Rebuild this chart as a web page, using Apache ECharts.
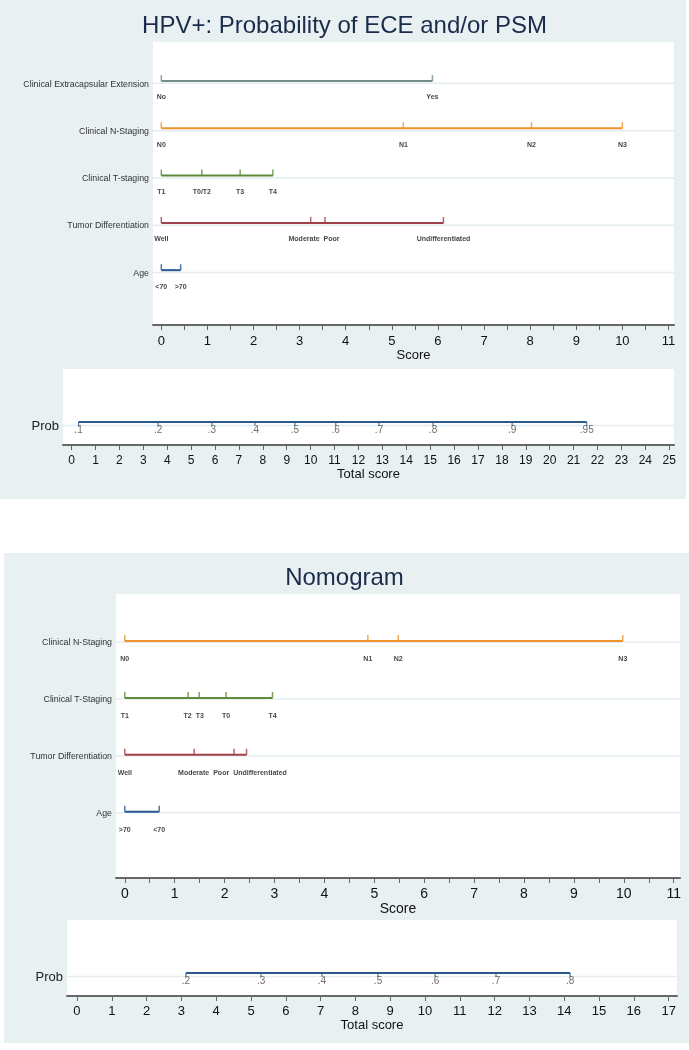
<!DOCTYPE html>
<html>
<head>
<meta charset="utf-8">
<script src="https://cdn.jsdelivr.net/npm/echarts@6/dist/echarts.min.js"></script>
<style>
  html, body { margin: 0; padding: 0; background: #fff; }
  #main { width: 689px; height: 1050px; }
</style>
</head>
<body>
<div id="main"></div>
<script>
// ---- top nomogram (HPV+: ECE and/or PSM) ----
const topRows = ['Clinical Extracapsular Extension', 'Clinical N-Staging', 'Clinical T-staging', 'Tumor Differentiation', 'Age'];
const topEceLevels = ['No', 'Yes'];
const topEceScores = [0, 5.88];
const topNLevels = ['N0', 'N1', 'N2', 'N3'];
const topNScores = [0, 5.25, 8.03, 10];
const topTLevels = ['T1', 'T0/T2', 'T3', 'T4'];
const topTScores = [0, 0.88, 1.71, 2.42];
const topDiffLevels = ['Well', 'Moderate', 'Poor', 'Undifferentiated'];
const topDiffScores = [0, 3.24, 3.55, 6.12];
const topAgeLevels = ['<70', '>70'];
const topAgeScores = [0, 0.42];
const topProbLabels = ['.1', '.2', '.3', '.4', '.5', '.6', '.7', '.8', '.9', '.95'];
const topProbScores = [0.29, 3.62, 5.87, 7.67, 9.34, 11.05, 12.86, 15.12, 18.43, 21.55];
const topScoreTicks = [0, 1, 2, 3, 4, 5, 6, 7, 8, 9, 10, 11];
const topTotalTicks = [0, 1, 2, 3, 4, 5, 6, 7, 8, 9, 10, 11, 12, 13, 14, 15, 16, 17, 18, 19, 20, 21, 22, 23, 24, 25];

// ---- bottom nomogram ----
const botRows = ['Clinical N-Staging', 'Clinical T-Staging', 'Tumor Differentiation', 'Age'];
const botNLevels = ['N0', 'N1', 'N2', 'N3'];
const botNScores = [0, 4.87, 5.48, 9.98];
const botTLevels = ['T1', 'T2', 'T3', 'T0', 'T4'];
const botTScores = [0, 1.27, 1.49, 2.03, 2.96];
const botDiffLevels = ['Well', 'Moderate', 'Poor', 'Undifferentiated'];
const botDiffScores = [0, 1.39, 2.19, 2.44];
const botAgeLevels = ['>70', '<70'];
const botAgeScores = [0, 0.69];
const botProbLabels = ['.2', '.3', '.4', '.5', '.6', '.7', '.8'];
const botProbScores = [3.13, 5.29, 7.04, 8.65, 10.29, 12.04, 14.17];
const botScoreTicks = [0, 1, 2, 3, 4, 5, 6, 7, 8, 9, 10, 11];
const botTotalTicks = [0, 1, 2, 3, 4, 5, 6, 7, 8, 9, 10, 11, 12, 13, 14, 15, 16, 17];

const AX_FONT = "'Liberation Sans', Arial, sans-serif";
const PANEL = '#e8f0f2';
const GRIDLINE = '#e3ecef';

const topDefs = [
  { levels: topEceLevels, scores: topEceScores, color: '#72908a' },
  { levels: topNLevels, scores: topNScores, color: '#f0922b' },
  { levels: topTLevels, scores: topTScores, color: '#5f8a3b' },
  { levels: topDiffLevels, scores: topDiffScores, color: '#a33e4b' },
  { levels: topAgeLevels, scores: topAgeScores, color: '#25588f' }
];
const botDefs = [
  { levels: botNLevels, scores: botNScores, color: '#f0922b' },
  { levels: botTLevels, scores: botTScores, color: '#5f8a3b' },
  { levels: botDiffLevels, scores: botDiffScores, color: '#a33e4b' },
  { levels: botAgeLevels, scores: botAgeScores, color: '#25588f' }
];

// axis ranges (score 0 sits a little inside the white box, like Stata)
const ranges = [
  { min: -0.18, max: 11.12 },   // top score
  { min: -0.36, max: 25.2 },    // top total score
  { min: -0.176, max: 11.126 }, // bottom score
  { min: -0.287, max: 17.24 }   // bottom total score
];

function xAxis(g, labels, step, fontSize, name, nameSize, margin, nameGap) {
  const ticks = [];
  for (let v = labels[0]; v <= labels[labels.length - 1] + 1e-9; v += step) ticks.push(+v.toFixed(2));
  return {
    gridIndex: g, type: 'value', min: ranges[g].min, max: ranges[g].max,
    name: name, nameLocation: 'middle', nameGap: nameGap,
    nameTextStyle: { fontSize: nameSize, color: '#111', fontFamily: AX_FONT },
    axisLine: { show: true, onZero: false, lineStyle: { color: '#666', width: 2 } },
    axisTick: { show: true, customValues: ticks, length: 5, lineStyle: { color: '#666', width: 1 } },
    axisLabel: { customValues: labels, fontSize: fontSize, color: '#111', margin: margin, fontFamily: AX_FONT },
    splitLine: { show: false }
  };
}

// labels sit slightly under the drawn line (shift in row units)
function yAxis(g, min, max, rows, fontSize, color, shift) {
  return {
    gridIndex: g, type: 'value', inverse: true, min: min, max: max,
    axisLine: { show: false }, axisTick: { show: false }, splitLine: { show: false },
    axisLabel: {
      customValues: rows.map((_, i) => i + shift),
      formatter: v => rows[Math.round(v)],
      fontSize: fontSize, color: color, fontFamily: AX_FONT, margin: 4
    }
  };
}

function rowSeries(g, defs, prefix, gridShift, dist) {
  const out = [];
  defs.forEach((d, r) => {
    out.push({
      type: 'line', xAxisIndex: g, yAxisIndex: g, silent: true, z: 1, symbol: 'none',
      data: [[ranges[g].min, r + gridShift], [ranges[g].max, r + gridShift]],
      lineStyle: { color: GRIDLINE, width: 1.5 }
    });
    out.push({
      type: 'line', xAxisIndex: g, yAxisIndex: g, silent: true, z: 2, symbol: 'none',
      data: d.scores.map(s => [s, r]),
      lineStyle: { color: d.color, width: 2 }
    });
    out.push({
      id: prefix + r, type: 'scatter', xAxisIndex: g, yAxisIndex: g, silent: true, z: 3,
      symbol: 'rect', symbolSize: [1.5, 6], symbolOffset: [0, -3],
      itemStyle: { color: d.color },
      data: d.scores.map((s, k) => ({ value: [s, r], name: d.levels[k] })),
      label: {
        show: true, position: 'bottom', distance: dist, formatter: '{b}',
        fontSize: 7, fontWeight: 'bold', color: '#111', fontFamily: AX_FONT
      }
    });
  });
  return out;
}

function probSeries(g, labels, scores) {
  return [
    {
      type: 'line', xAxisIndex: g, yAxisIndex: g, silent: true, z: 1, symbol: 'none',
      data: [[ranges[g].min, 0.15], [ranges[g].max, 0.15]],
      lineStyle: { color: GRIDLINE, width: 1.5 }
    },
    {
      type: 'line', xAxisIndex: g, yAxisIndex: g, silent: true, z: 2, symbol: 'none',
      data: scores.map(s => [s, 0]),
      lineStyle: { color: '#2b5a8a', width: 2 }
    },
    {
      type: 'scatter', xAxisIndex: g, yAxisIndex: g, silent: true, z: 3,
      symbol: 'rect', symbolSize: [1.2, 4], symbolOffset: [0, 2],
      itemStyle: { color: '#2b5a8a' },
      data: scores.map((s, k) => ({ value: [s, 0], name: labels[k] })),
      label: {
        show: true, position: 'bottom', distance: -1, formatter: '{b}',
        fontSize: 10, color: '#4a4a4a', fontFamily: AX_FONT
      }
    }
  ];
}

const chart = echarts.init(document.getElementById('main'));

const gridBase = { show: true, backgroundColor: '#fff', borderWidth: 0, containLabel: false, outerBoundsMode: 'none' };

const option = {
  animation: false,
  backgroundColor: '#fff',
  graphic: [
    { type: 'rect', z: -10, shape: { x: 0, y: 0, width: 686, height: 499 }, style: { fill: PANEL } },
    { type: 'rect', z: -10, shape: { x: 4, y: 553, width: 685, height: 490 }, style: { fill: PANEL } }
  ],
  title: [
    { text: 'HPV+: Probability of ECE and/or PSM', left: 'center', top: 9,
      textStyle: { fontSize: 24, fontWeight: 'normal', color: '#1b2b4b', fontFamily: AX_FONT } },
    { text: 'Nomogram', left: 'center', top: 561,
      textStyle: { fontSize: 24, fontWeight: 'normal', color: '#1b2b4b', fontFamily: AX_FONT } }
  ],
  grid: [
    Object.assign({ left: 153, top: 42, width: 521, height: 283 }, gridBase),
    Object.assign({ left: 63, top: 369, width: 611, height: 76 }, gridBase),
    Object.assign({ left: 116, top: 594, width: 564, height: 284 }, gridBase),
    Object.assign({ left: 67, top: 920, width: 610, height: 76 }, gridBase)
  ],
  xAxis: [
    xAxis(0, topScoreTicks, 0.5, 13, 'Score', 13, 10, 21),
    xAxis(1, topTotalTicks, 1, 12, 'Total score', 13, 10, 21),
    xAxis(2, botScoreTicks, 0.5, 14, 'Score', 14, 9, 20),
    xAxis(3, botTotalTicks, 1, 13, 'Total score', 13, 9, 21)
  ],
  yAxis: [
    yAxis(0, -0.8245, 5.159, topRows, 8.8, '#333', 0.065),
    yAxis(1, -2.3, 1, ['Prob'], 13, '#222', 0.2),
    yAxis(2, -0.826, 4.165, botRows, 8.8, '#333', 0.025),
    yAxis(3, -2.3, 1, ['Prob'], 13, '#222', 0.2)
  ],
  series: [].concat(
    rowSeries(0, topDefs, 'top', 0.05, 13),
    probSeries(1, topProbLabels, topProbScores),
    rowSeries(2, botDefs, 'bot', 0.02, 15),
    probSeries(3, botProbLabels, botProbScores)
  )
};
chart.setOption(option);

// push apart labels that would overlap on the same row
const ctx = document.createElement('canvas').getContext('2d');
ctx.font = 'bold 7px ' + AX_FONT;
function spread(g, defs, prefix) {
  return defs.map((d, r) => {
    const items = d.scores.map((s, k) => {
      const x = chart.convertToPixel({ gridIndex: g }, [s, r])[0];
      return { k: k, x: x, c: x, w: ctx.measureText(d.levels[k]).width };
    }).sort((a, b) => a.x - b.x);
    for (let it = 0; it < 30; it++) {
      for (let j = 1; j < items.length; j++) {
        const a = items[j - 1], b = items[j];
        const over = (a.c + a.w / 2 + 4) - (b.c - b.w / 2);
        if (over > 0) { a.c -= over / 2; b.c += over / 2; }
      }
    }
    const dx = [];
    items.forEach(o => { dx[o.k] = o.c - o.x; });
    return {
      id: prefix + r,
      data: d.scores.map((s, k) => ({ value: [s, r], name: d.levels[k], label: { offset: [dx[k], 0] } }))
    };
  });
}
chart.setOption({ series: spread(0, topDefs, 'top').concat(spread(2, botDefs, 'bot')) });
</script>
</body>
</html>
